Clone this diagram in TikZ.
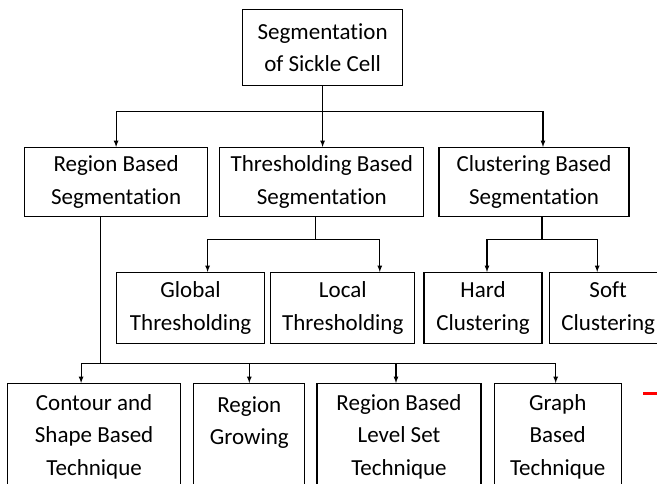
\documentclass[tikz,border=0pt]{standalone}
\usepackage{fontspec}
\setmainfont{Carlito}[Ligatures=NoCommon]
\usepackage{tikz}
\usetikzlibrary{shapes,arrows,positioning}

\tikzset{
  box/.style={draw, line width=1.2pt, align=center, inner sep=0pt,
    font=\fontsize{23}{32.5}\selectfont},
  arr/.style={-latex, line width=1.2pt},
  lvltwo/.style={box, minimum height=69pt},
  lvlthree/.style={box, minimum height=71pt},
  lvlfour/.style={box, minimum height=106pt}
}

\begin{document}
\begin{tikzpicture}[x=1pt, y=-1pt]
  \useasboundingbox (0,0) rectangle (657,483);
  \clip (0,0) rectangle (657,483);

  \node[box, anchor=north west, minimum width=160pt, minimum height=76pt] (sickle) at (242,9) {Segmentation\\of Sickle Cell};

  \node[lvltwo, anchor=north west, minimum width=183pt] (region) at (24,147) {Region Based\\Segmentation};
  \node[lvltwo, minimum width=204pt, right=11pt of region] (thresh) {Thresholding Based\\Segmentation};
  \node[lvltwo, minimum width=190pt, right=14pt of thresh] (cluster) {Clustering Based\\Segmentation};

  \node[lvlthree, anchor=north west, minimum width=148pt] (global) at (116,272) {Global\\Thresholding};
  \node[lvlthree, minimum width=144pt, right=5pt of global] (local) {Local\\Thresholding};
  \node[lvlthree, minimum width=118pt, right=8pt of local] (hard) {Hard\\Clustering};
  \node[lvlthree, minimum width=118pt, right=6pt of hard] (soft) {Soft\\Clustering};

  \node[lvlfour, anchor=north west, minimum width=173pt] (contour) at (7,383) {Contour and\\Shape Based\\Technique};
  \node[lvlfour, minimum width=111pt, right=12pt of contour] (growing) {Region\\Growing\\~};
  \node[lvlfour, minimum width=164pt, right=11pt of growing] (levelset) {Region Based\\Level Set\\Technique};
  \node[lvlfour, minimum width=127pt, right=12pt of levelset] (graph) {Graph\\Based\\Technique};

  \draw[line width=1.2pt] (sickle.south) -- ++(0,25) coordinate (topbus);
  \draw[arr] (topbus) -| (region.north);
  \draw[arr] (topbus) -- (topbus |- thresh.north);
  \draw[arr] (topbus) -| ([xshift=9pt]cluster.north);

  \draw[line width=1.2pt] ([xshift=-6pt]thresh.south) -- ++(0,22) coordinate (tbus);
  \draw[arr] (tbus) -| ([xshift=17pt]global.north);
  \draw[arr] (tbus) -| ([xshift=37pt]local.north);

  \draw[line width=1.2pt] ([xshift=8pt]cluster.south) -- ++(0,22) coordinate (cbus);
  \draw[arr] (cbus) -| ([xshift=4pt]hard.north);
  \draw[arr] (cbus) -| ([xshift=-11pt]soft.north);

  \draw[line width=1.2pt] ([xshift=-16pt]region.south) -- ++(0,146) coordinate (rbus);
  \draw[arr] (rbus) -| ([xshift=-13pt]contour.north);
  \draw[arr] (rbus) -| (growing.north);
  \draw[arr] (rbus) -| ([xshift=-3pt]levelset.north);
  \draw[arr] (rbus) -| ([xshift=-2pt]graph.north);

  \draw[red, line width=3pt] (643,393) -- (657,393);
\end{tikzpicture}
\end{document}
